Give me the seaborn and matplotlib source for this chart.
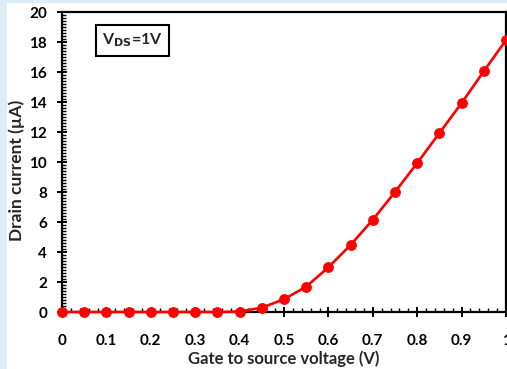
import matplotlib
matplotlib.use("Agg")
import matplotlib.pyplot as plt
from matplotlib.patches import Rectangle
from matplotlib.ticker import MultipleLocator, FuncFormatter
import seaborn as sns
import pandas as pd

# Transfer characteristic at V_DS = 1 V
vgs = [0.0, 0.05, 0.1, 0.15, 0.2, 0.25, 0.3, 0.35, 0.4, 0.45, 0.5,
       0.55, 0.6, 0.65, 0.7, 0.75, 0.8, 0.85, 0.9, 0.95, 1.0]
id_ua = [0.0, 0.0, 0.0, 0.0, 0.0, 0.0, 0.0, 0.0, 0.03, 0.29, 0.85,
         1.69, 2.98, 4.47, 6.15, 8.0, 9.93, 11.93, 13.93, 16.05, 18.13]
x_ticks = [0, 0.1, 0.2, 0.3, 0.4, 0.5, 0.6, 0.7, 0.8, 0.9, 1]
y_ticks = [0, 2, 4, 6, 8, 10, 12, 14, 16, 18, 20]

df = pd.DataFrame({"vgs": vgs, "id": id_ua})

sns.set_style("white")
plt.rcParams["font.family"] = ["Lato", "DejaVu Sans"]
plt.rcParams["font.weight"] = "bold"

W, H = 507, 369
fig = plt.figure(figsize=(W / 100, H / 100), dpi=100)
fig.patch.set_facecolor("#dcedf5")
fig.patches.append(Rectangle((7 / W, 0), 1, 1 - 3 / H, transform=fig.transFigure,
                             facecolor="white", edgecolor="none", zorder=-10))

ax = fig.add_axes([62 / W, (H - 312) / H, (506 - 62) / W, 300 / H])
ax.set_facecolor("white")

sns.lineplot(data=df, x="vgs", y="id", ax=ax, color="#ff0000", linewidth=1.9,
             marker="o", markersize=7, markeredgecolor="#ff0000", clip_on=False,
             zorder=5)

ax.set_xlim(0, 1)
ax.set_ylim(0, 20)
ax.set_xticks(x_ticks)
ax.set_yticks(y_ticks)
ax.xaxis.set_minor_locator(MultipleLocator(0.02))
ax.yaxis.set_minor_locator(MultipleLocator(0.2))
ax.xaxis.set_major_formatter(FuncFormatter(lambda v, p: f"{v:g}"))

for s in ax.spines.values():
    s.set_color("black")
    s.set_linewidth(1.6)

ax.tick_params(which="major", direction="inout", length=7.5, width=1.4,
               labelsize=11, colors="black")
ax.tick_params(axis="y", which="major", pad=7)
ax.tick_params(axis="x", which="major", pad=12)
ax.tick_params(which="minor", direction="in", length=3, width=1.0, colors="black")
ax.tick_params(bottom=True, left=True, which="both")
for lab in ax.get_xticklabels() + ax.get_yticklabels():
    lab.set_fontweight("bold")

ax.set_xlabel("Gate to source voltage (V)", fontsize=12, fontweight="bold", labelpad=1.5)
ax.set_ylabel("Drain current (µA)", fontsize=12.5, fontweight="bold")
ax.yaxis.set_label_coords(-0.084, 0.473)

ax.text(0.09, 0.905, r"V$_{\mathbf{DS}}$=1V", transform=ax.transAxes,
        fontsize=11.5, fontweight="bold", va="center", ha="left",
        bbox=dict(boxstyle="square,pad=0.4", facecolor="white",
                  edgecolor="black", linewidth=1.5))

fig.savefig("out.png", dpi=100, facecolor=fig.get_facecolor())
